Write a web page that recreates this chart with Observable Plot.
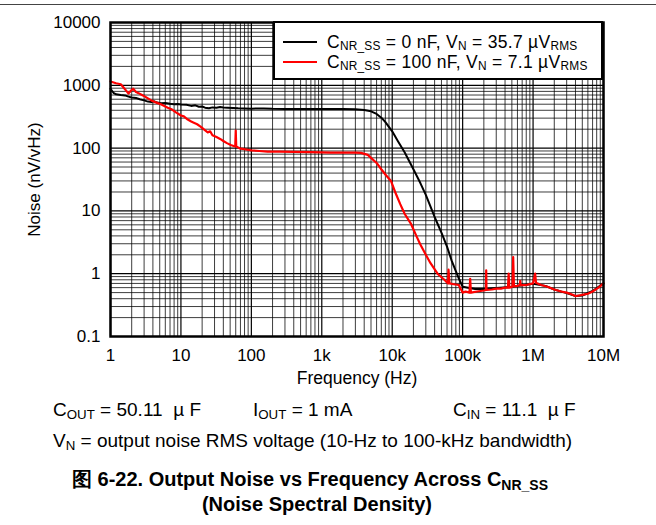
<!DOCTYPE html>
<html>
<head>
<meta charset="utf-8">
<script src="https://cdn.jsdelivr.net/npm/d3@7"></script>
<script src="https://cdn.jsdelivr.net/npm/@observablehq/plot@0.6"></script>
<style>
  body { margin:0; background:#fff; font-family:"Liberation Sans", Arial, sans-serif; }
  #wrap { position:relative; width:656px; height:525px; overflow:hidden; }
  #topline { position:absolute; left:0; top:4px; width:656px; height:0; border-top:1.5px solid #444; }
  #chart { position:absolute; left:0; top:0; }
  .sub { font-size:0.7em; vertical-align:-0.25em; line-height:0; }
  #legend { position:absolute; left:273px; top:21px; width:326px; height:55px; background:#fff; border:2.5px solid #000; }
  .lsw { position:absolute; left:8px; width:34px; height:0; }
  .ltx { position:absolute; left:52px; top:8.5px; font-size:17.5px; line-height:20.5px; letter-spacing:0.3px; white-space:nowrap; color:#000; }
  .ltx .sub { font-size:0.68em; vertical-align:-0.18em; letter-spacing:0.2px; }
  .cap { position:absolute; font-size:19px; line-height:19px; white-space:nowrap; color:#000; }
  .ttl { position:absolute; left:0; width:620px; text-align:center; font-size:20px; line-height:25px; font-weight:bold; white-space:nowrap; color:#000; }
</style>
</head>
<body>
<div id="wrap">
  <div id="chart"></div>
  <div id="topline"></div>
  <div id="legend">
    <div class="lsw" style="top:18px; border-top:2.2px solid #000;"></div>
    <div class="lsw" style="top:38px; border-top:2.2px solid #ff0000;"></div>
    <div class="ltx">C<span class="sub">NR_SS</span> = 0 nF, V<span class="sub">N</span> = 35.7 µV<span class="sub">RMS</span><br>C<span class="sub">NR_SS</span> = 100 nF, V<span class="sub">N</span> = 7.1 µV<span class="sub">RMS</span></div>
  </div>
  <div class="cap" style="left:53px; top:400px;">C<span class="sub">OUT</span> = 50.11 &nbsp;µ F</div>
  <div class="cap" style="left:253px; top:400px;">I<span class="sub">OUT</span> = 1 mA</div>
  <div class="cap" style="left:453px; top:400px;">C<span class="sub">IN</span> = 11.1 &nbsp;µ F</div>
  <div class="cap" style="left:53px; top:431px;">V<span class="sub">N</span> = output noise RMS voltage (10-Hz to 100-kHz bandwidth)</div>
  <div class="ttl" style="top:467px;">图 6-22. Output Noise vs Frequency Across C<span class="sub">NR_SS</span><br><span style="padding-left:14px;">(Noise Spectral Density)</span></div>
</div>
<script>
// ---- Data ----
const xTicks = [1, 10, 100, 1e3, 1e4, 1e5, 1e6, 1e7];
const xTickLabels = ["1", "10", "100", "1k", "10k", "100k", "1M", "10M"];
const yTicks = [0.1, 1, 10, 100, 1000, 10000];
const yTickLabels = ["0.1", "1", "10", "100", "1000", "10000"];
const minorMultipliers = [2, 3, 4, 5, 6, 7, 8, 9];

// C_NR_SS = 0 nF
const blackFreq = [1, 1.1, 1.2, 1.4, 1.6, 1.8, 2.0, 2.3, 2.6, 3.0, 3.4, 3.8, 4.2, 4.6, 5.2, 6, 7, 8, 9, 10,
  12, 14, 16, 18, 20, 22, 25, 28, 32, 36, 40, 46, 55, 65, 80, 100, 150, 200, 300, 500,
  1000, 2000, 3000, 4000, 5000, 6000, 7000, 8000, 10000, 12000, 15000, 20000, 25000, 30000,
  40000, 50000, 60000, 70000, 80000, 90000, 100000, 150000, 200000, 300000, 500000,
  1000000, 1500000, 2000000, 3000000, 4000000, 5000000, 7000000, 10000000];
const blackNoise = [880, 760, 720, 700, 690, 660, 640, 630, 600, 575, 550, 540, 555, 530, 520, 525, 510, 500, 505, 495,
  490, 470, 480, 455, 460, 440, 430, 445, 440, 450, 445, 440, 435, 430, 428, 425, 427, 422, 420, 420,
  418, 418, 415, 405, 385, 350, 305, 260, 185, 130, 86, 46, 28, 18,
  8, 4.5, 2.7, 1.6, 1.1, 0.8, 0.62, 0.57, 0.57, 0.59, 0.62,
  0.69, 0.64, 0.56, 0.49, 0.44, 0.45, 0.53, 0.7];

// C_NR_SS = 100 nF
const redFreq = [1, 1.2, 1.4, 1.5, 1.7, 1.8, 1.95, 2.1, 2.3, 2.5, 2.8, 3.1, 3.4, 3.8, 4.2, 4.7, 5.2, 6.0, 6.5, 7.5, 8.5,
  10, 11, 12.5, 14, 15, 17, 19, 21, 24, 26, 28, 32, 36, 40, 45, 51, 56, 59, 60, 61, 65, 70, 80,
  100, 130, 170, 250, 400, 700, 1350, 2000, 3000, 3600, 4500, 5000, 6000, 7000, 8000, 9600,
  11000, 13000, 15000, 18500, 22000, 25000, 30000, 35000, 44000, 55000, 62000, 63000, 65000, 75000, 88000,
  100000, 110000, 125000, 128000, 131000, 160000, 200000, 214000, 216000, 218000, 260000, 300000, 350000,
  400000, 440000, 450000, 460000, 510000, 522000, 535000, 600000, 650000, 657000, 665000, 800000,
  1000000, 1070000, 1100000, 1300000, 1600000, 2000000, 2500000, 3000000, 3500000, 4000000,
  4500000, 5000000, 6000000, 7000000, 8500000, 10000000];
const redNoise = [1150, 1080, 1040, 950, 800, 740, 820, 880, 780, 750, 700, 660, 620, 575, 545, 520, 500, 460, 440, 410, 370,
  330, 320, 285, 265, 255, 240, 220, 200, 178, 185, 160, 150, 140, 130, 120, 112, 108, 106, 190, 106, 102, 98, 96,
  92, 90, 88, 88, 87, 86, 85, 85, 85, 84, 78, 70, 58, 46, 38, 30,
  20, 12.8, 9, 6.2, 4, 2.95, 2, 1.47, 1.0, 0.8, 0.70, 1.16, 0.70, 0.68, 0.66,
  0.5, 0.52, 0.5, 0.83, 0.5, 0.52, 0.54, 0.55, 1.13, 0.55, 0.56, 0.58, 0.58,
  0.6, 0.6, 1.0, 0.6, 0.62, 1.83, 0.63, 0.64, 0.66, 0.77, 0.66, 0.66,
  0.7, 1.0, 0.72, 0.66, 0.62, 0.56, 0.52, 0.5, 0.47, 0.44,
  0.45, 0.46, 0.48, 0.52, 0.6, 0.7];

// ---- Build tables ----
const black = blackFreq.map((f, i) => ({f, v: blackNoise[i]}));
const red = redFreq.map((f, i) => ({f, v: redNoise[i]}));
const xMinor = xTicks.slice(0, -1).flatMap(d => minorMultipliers.map(m => d * m));
const yMinor = yTicks.slice(0, -1).flatMap(d => minorMultipliers.map(m => d * m));

const chart = Plot.plot({
  width: 656,
  height: 392,
  marginTop: 22,
  marginBottom: 56,
  marginLeft: 110,
  marginRight: 53,
  style: {fontFamily: '"Liberation Sans", Arial, sans-serif', color: "#000", background: "transparent"},
  x: {type: "log", domain: [1, 1e7]},
  y: {type: "log", domain: [0.1, 1e4]},
  marks: [
    Plot.ruleX(xMinor, {stroke: "#000", strokeWidth: 0.9, strokeOpacity: 0.85}),
    Plot.ruleY(yMinor, {stroke: "#000", strokeWidth: 0.9, strokeOpacity: 0.85}),
    Plot.ruleX(xTicks, {stroke: "#000", strokeWidth: 1.2}),
    Plot.ruleY(yTicks, {stroke: "#000", strokeWidth: 1.2}),
    Plot.line(black, {x: "f", y: "v", stroke: "#000", strokeWidth: 2}),
    Plot.line(red, {x: "f", y: "v", stroke: "#ff0000", strokeWidth: 2.2}),
    Plot.frame({stroke: "#000", strokeWidth: 2.5}),
    Plot.axisX(xTicks, {tickSize: 0, tickPadding: 12, fontSize: 17, label: null,
      tickFormat: d => xTickLabels[xTicks.indexOf(d)]}),
    Plot.axisY(yTicks, {tickSize: 0, tickPadding: 10, fontSize: 17, label: null,
      tickFormat: d => yTickLabels[yTicks.indexOf(d)]}),
    Plot.text(["Frequency (Hz)"], {frameAnchor: "bottom", textAnchor: "middle", lineAnchor: "middle", dy: 42, fontSize: 17.5, fill: "#000"}),
    Plot.text(["Noise (nV/vHz)"], {frameAnchor: "left", textAnchor: "middle", lineAnchor: "middle", dx: -76, rotate: -90, fontSize: 17, fill: "#000"})
  ]
});
document.getElementById("chart").appendChild(chart);
</script>
</body>
</html>
